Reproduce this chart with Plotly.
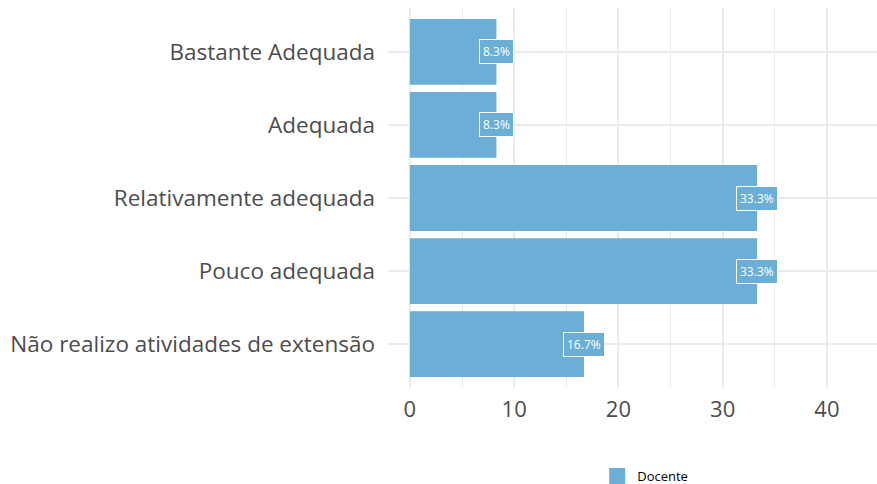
import plotly.graph_objects as go

categories = ["Não realizo atividades de extensão", "Pouco adequada", "Relativamente adequada", "Adequada", "Bastante Adequada"]
values = [16.7, 33.3, 33.3, 8.3, 8.3]
labels = ["16.7%", "33.3%", "33.3%", "8.3%", "8.3%"]
series_name = "Docente"
x_ticks = [0, 10, 20, 30, 40]

color = "#6BAED6"
font_family = "Open Sans, Lato, DejaVu Sans, sans-serif"

fig = go.Figure()
fig.add_trace(go.Bar(
    x=values, y=categories, orientation="h", name=series_name,
    marker=dict(color=color, line=dict(width=0)), width=0.9,
    showlegend=False,
))
# legend key (larger square like ggplot)
fig.add_trace(go.Scatter(
    x=[None], y=[None], mode="markers", name=series_name,
    marker=dict(symbol="square", size=16, color=color), showlegend=True,
))

for v, c, t in zip(values, categories, labels):
    fig.add_annotation(
        x=v, y=c, text=t, showarrow=False,
        font=dict(family=font_family, size=12, color="white"),
        bgcolor=color, bordercolor="white", borderwidth=1, borderpad=3,
        xanchor="center", yanchor="middle",
    )

fig.update_layout(
    width=877, height=484,
    margin=dict(l=388, r=0, t=8, b=96, autoexpand=False),
    paper_bgcolor="white", plot_bgcolor="white",
    font=dict(family=font_family, color="#4d4d4d"),
    bargap=0.1,
    legend=dict(orientation="h", x=0.526, xanchor="center", y=-0.192, yanchor="top",
                font=dict(size=13, color="black"), itemsizing="trace"),
    xaxis=dict(range=[-2.1, 44.8], tickvals=x_ticks, showgrid=True, gridcolor="#EBEBEB",
               gridwidth=2, zeroline=False, tickfont=dict(size=22, color="#4d4d4d"),
               minor=dict(dtick=5, tick0=5, showgrid=True, gridcolor="#EBEBEB", gridwidth=1),
               ticks="", showline=False, automargin=False, ticklabelstandoff=6),
    yaxis=dict(categoryorder="array", categoryarray=categories, range=[-0.6, 4.6],
               showgrid=True, gridcolor="#EBEBEB", gridwidth=2, zeroline=False,
               tickfont=dict(size=22.5, color="#4d4d4d"), ticks="", showline=False,
               automargin=False, ticklabelstandoff=12),
)

fig.write_html("out.html", config={"displayModeBar": False},
               post_script="document.body.style.margin='0px';")
